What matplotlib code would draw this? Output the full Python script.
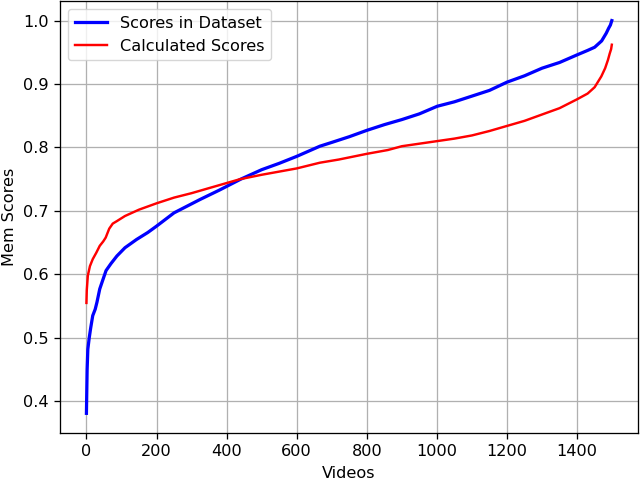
import matplotlib
matplotlib.use("Agg")
import matplotlib.pyplot as plt

# Sorted scores (video index -> score)
blue_x = [0, 2, 4, 8, 12, 18, 25, 30, 38, 46, 56, 70, 87, 110, 143, 175, 200, 250, 324, 380, 440, 500, 550, 600, 666, 700, 750, 800, 850, 900, 950, 1001, 1050, 1100, 1150, 1200, 1250, 1300, 1350, 1400, 1430, 1450, 1470, 1483, 1490, 1495, 1499]
blue_y = [0.381, 0.45, 0.482, 0.50, 0.515, 0.535, 0.545, 0.556, 0.577, 0.59, 0.606, 0.617, 0.629, 0.642, 0.655, 0.666, 0.676, 0.697, 0.718, 0.733, 0.750, 0.765, 0.775, 0.786, 0.802, 0.808, 0.817, 0.827, 0.836, 0.844, 0.853, 0.865, 0.872, 0.881, 0.890, 0.903, 0.913, 0.925, 0.934, 0.946, 0.953, 0.958, 0.968, 0.980, 0.988, 0.993, 1.0]

red_x = [0, 1, 4, 10, 18, 28, 38, 48, 55, 65, 75, 87, 110, 150, 200, 250, 300, 350, 438, 500, 560, 600, 666, 720, 800, 860, 900, 950, 1000, 1050, 1100, 1150, 1200, 1250, 1300, 1350, 1400, 1430, 1450, 1469, 1480, 1488, 1493, 1497, 1499]
red_y = [0.555, 0.575, 0.598, 0.613, 0.624, 0.634, 0.645, 0.652, 0.658, 0.672, 0.680, 0.684, 0.692, 0.702, 0.712, 0.721, 0.728, 0.736, 0.750, 0.757, 0.763, 0.767, 0.776, 0.781, 0.790, 0.796, 0.802, 0.806, 0.810, 0.814, 0.819, 0.826, 0.834, 0.842, 0.852, 0.862, 0.876, 0.885, 0.895, 0.912, 0.925, 0.938, 0.948, 0.955, 0.962]

s = 1.165
plt.rcParams.update({
    "font.size": 10 * s,
    "axes.linewidth": 0.8 * s,
    "xtick.major.size": 3.5 * s,
    "ytick.major.size": 3.5 * s,
    "xtick.major.width": 0.8 * s,
    "ytick.major.width": 0.8 * s,
    "xtick.major.pad": 3.5 * s,
    "ytick.major.pad": 3.5 * s,
    "axes.labelpad": 4.0 * s,
})

fig = plt.figure(figsize=(6.4, 4.8), dpi=100)
ax = fig.add_axes([0.094, 0.098, 0.903, 0.9])
ax.plot(blue_x, blue_y, color="blue", lw=2 * s, label="Scores in Dataset")
ax.plot(red_x, red_y, color="red", lw=1.5 * s, label="Calculated Scores")
ax.grid(True, color="#b0b0b0", lw=0.8 * s)
ax.set_xlabel("Videos")
ax.set_ylabel("Mem Scores")
ax.set_xticks([0, 200, 400, 600, 800, 1000, 1200, 1400])
ax.set_yticks([0.4, 0.5, 0.6, 0.7, 0.8, 0.9, 1.0])
ax.legend(loc="upper left")
fig.savefig("out.png", dpi=100)
